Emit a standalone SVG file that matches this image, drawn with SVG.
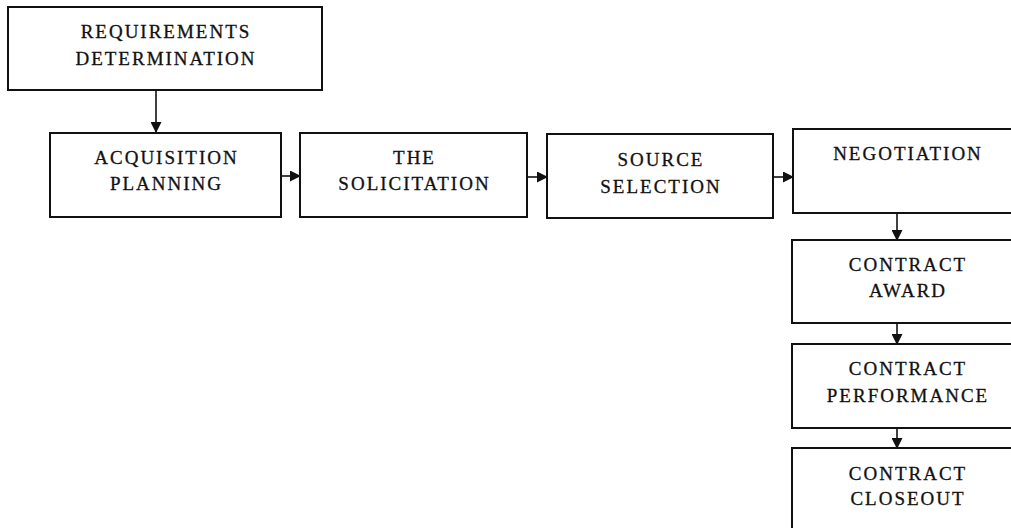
<svg xmlns="http://www.w3.org/2000/svg" width="1011" height="528" viewBox="0 0 1011 528">
<style>
.box{fill:#fff;stroke:#111;stroke-width:2}
.t{font-family:"Liberation Serif",serif;font-size:19px;letter-spacing:2px;fill:#111;stroke:#111;stroke-width:0.3;text-anchor:middle}
.c{stroke:#111;stroke-width:1.6;fill:none}
</style>
<defs>
<marker id="ah" markerWidth="11" markerHeight="11" refX="10" refY="5.5" orient="auto" markerUnits="userSpaceOnUse">
<path d="M0,0 L11,5.5 L0,11 Z" fill="#111"/>
</marker>
</defs>
<rect width="1011" height="528" fill="#fff"/>
<g id="connectors">
<line class="c" x1="156" y1="90" x2="156" y2="132" marker-end="url(#ah)"/>
<line class="c" x1="281" y1="176" x2="300" y2="176" marker-end="url(#ah)"/>
<line class="c" x1="527" y1="177" x2="547" y2="177" marker-end="url(#ah)"/>
<line class="c" x1="773" y1="177" x2="793" y2="177" marker-end="url(#ah)"/>
<line class="c" x1="897" y1="213" x2="897" y2="240" marker-end="url(#ah)"/>
<line class="c" x1="897" y1="323" x2="897" y2="344" marker-end="url(#ah)"/>
<line class="c" x1="897" y1="428" x2="897" y2="448" marker-end="url(#ah)"/>
</g>
<g id="requirements">
<rect class="box" x="8" y="7" width="314" height="83"/>
<text class="t" x="166" y="38">REQUIREMENTS</text>
<text class="t" x="166" y="65">DETERMINATION</text>
</g>
<g id="acquisition">
<rect class="box" x="50" y="133" width="231" height="84"/>
<text class="t" x="166.5" y="164">ACQUISITION</text>
<text class="t" x="166.5" y="190">PLANNING</text>
</g>
<g id="solicitation">
<rect class="box" x="300" y="133" width="227" height="84"/>
<text class="t" x="414.5" y="164">THE</text>
<text class="t" x="414.5" y="190">SOLICITATION</text>
</g>
<g id="source">
<rect class="box" x="547" y="134" width="226" height="84"/>
<text class="t" x="661" y="166">SOURCE</text>
<text class="t" x="661" y="193">SELECTION</text>
</g>
<g id="negotiation">
<rect class="box" x="793" y="129" width="230" height="84"/>
<text class="t" x="908" y="160">NEGOTIATION</text>
</g>
<g id="award">
<rect class="box" x="792" y="240" width="230" height="83"/>
<text class="t" x="908" y="271">CONTRACT</text>
<text class="t" x="908" y="297">AWARD</text>
</g>
<g id="performance">
<rect class="box" x="792" y="344" width="230" height="84"/>
<text class="t" x="908" y="375">CONTRACT</text>
<text class="t" x="908" y="402">PERFORMANCE</text>
</g>
<g id="closeout">
<rect class="box" x="792" y="448" width="230" height="100"/>
<text class="t" x="908" y="480">CONTRACT</text>
<text class="t" x="908" y="505">CLOSEOUT</text>
</g>
</svg>
